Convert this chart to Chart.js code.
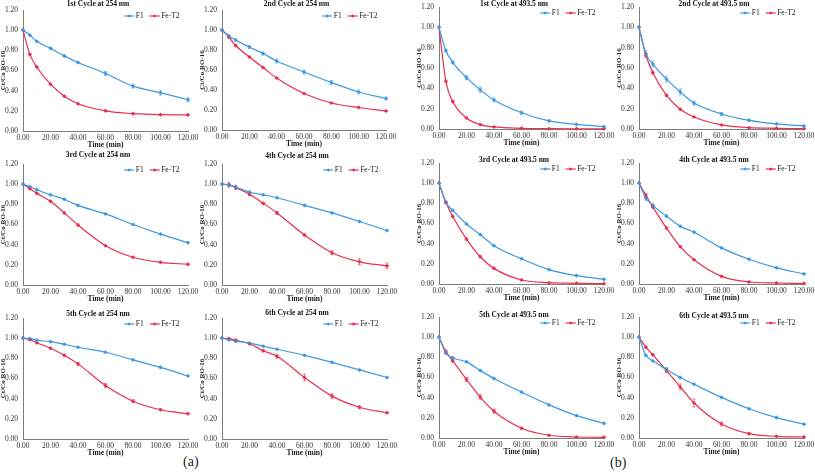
<!DOCTYPE html>
<html><head><meta charset="utf-8">
<script src="https://cdn.jsdelivr.net/npm/chart.js@4.4.1/dist/chart.umd.min.js"></script>
<style>
html,body{margin:0;padding:0;background:#fff;width:815px;height:475px;overflow:hidden;position:relative}
canvas{position:absolute}
.lab{position:absolute;font-family:'Liberation Serif','Times New Roman',serif;font-size:14px;color:#222;line-height:14px}
</style></head><body>
<div class="lab" style="left:183px;top:455px">(a)</div>
<div class="lab" style="left:610px;top:456px">(b)</div>
<script>
// ---------- DATA ----------
const times = [0, 5, 10, 20, 30, 40, 60, 80, 100, 120];
const seriesNames = ['F1', 'Fe-T2'];
const xTicks = [0, 20, 40, 60, 80, 100, 120];
const yTicks = [0, 0.2, 0.4, 0.6, 0.8, 1.0, 1.2];
const xTitle = 'Time (min)';
const yTitle = 'Ct/Co RO-16';
const panelTitles = [
  '1st Cycle at 254 nm', '2nd Cycle at 254 nm', '1st Cycle at 493.5 nm', '2nd Cycle at 493.5 nm',
  '3rd Cycle at 254 nm', '4th Cycle at 254 nm', '3rd Cycle at 493.5 nm', '4th Cycle at 493.5 nm',
  '5th Cycle at 254 nm', '6th Cycle at 254 nm', '5th Cycle at 493.5 nm', '6th Cycle at 493.5 nm'
];

// 254 nm
const f1_254_c1 = [1.00, 0.95, 0.89, 0.82, 0.745, 0.68, 0.57, 0.445, 0.38, 0.31];
const fe_254_c1 = [1.00, 0.76, 0.635, 0.465, 0.345, 0.27, 0.20, 0.172, 0.162, 0.16];
const f1_254_c2 = [1.00, 0.94, 0.90, 0.83, 0.765, 0.69, 0.58, 0.475, 0.38, 0.315];
const fe_254_c2 = [1.00, 0.93, 0.845, 0.73, 0.625, 0.52, 0.365, 0.27, 0.225, 0.19];
const f1_254_c3 = [1.00, 0.975, 0.945, 0.895, 0.85, 0.79, 0.705, 0.60, 0.505, 0.42];
const fe_254_c3 = [1.00, 0.955, 0.91, 0.83, 0.715, 0.595, 0.39, 0.275, 0.225, 0.205];
const f1_254_c4 = [1.00, 0.99, 0.97, 0.92, 0.895, 0.865, 0.79, 0.715, 0.63, 0.54];
const fe_254_c4 = [1.00, 0.995, 0.965, 0.90, 0.81, 0.715, 0.495, 0.32, 0.23, 0.19];
const f1_254_c5 = [1.00, 0.995, 0.98, 0.965, 0.94, 0.91, 0.86, 0.785, 0.71, 0.625];
const fe_254_c5 = [1.00, 0.985, 0.955, 0.90, 0.83, 0.745, 0.53, 0.375, 0.29, 0.25];
const f1_254_c6 = [1.00, 0.985, 0.97, 0.95, 0.92, 0.89, 0.83, 0.76, 0.685, 0.61];
const fe_254_c6 = [1.00, 0.995, 0.98, 0.945, 0.875, 0.82, 0.61, 0.425, 0.315, 0.26];
// 493.5 nm
const f1_493_c1 = [1.00, 0.77, 0.655, 0.505, 0.385, 0.285, 0.16, 0.08, 0.045, 0.023];
const fe_493_c1 = [1.00, 0.47, 0.27, 0.108, 0.043, 0.02, 0.007, 0.003, 0.002, 0.002];
const f1_493_c2 = [1.00, 0.74, 0.64, 0.49, 0.365, 0.255, 0.148, 0.085, 0.05, 0.03];
const fe_493_c2 = [1.00, 0.725, 0.555, 0.33, 0.195, 0.118, 0.04, 0.013, 0.007, 0.003];
const f1_493_c3 = [1.00, 0.81, 0.73, 0.595, 0.49, 0.38, 0.25, 0.143, 0.083, 0.046];
const fe_493_c3 = [1.00, 0.81, 0.67, 0.445, 0.27, 0.155, 0.04, 0.013, 0.007, 0.003];
const f1_493_c4 = [1.00, 0.85, 0.78, 0.673, 0.573, 0.514, 0.358, 0.245, 0.16, 0.10];
const fe_493_c4 = [1.00, 0.88, 0.765, 0.555, 0.37, 0.24, 0.076, 0.02, 0.01, 0.005];
const f1_493_c5 = [1.00, 0.845, 0.795, 0.755, 0.67, 0.59, 0.455, 0.328, 0.222, 0.145];
const fe_493_c5 = [1.00, 0.855, 0.765, 0.58, 0.405, 0.265, 0.097, 0.027, 0.01, 0.007];
const f1_493_c6 = [1.00, 0.82, 0.765, 0.68, 0.60, 0.533, 0.403, 0.29, 0.202, 0.136];
const fe_493_c6 = [1.00, 0.90, 0.826, 0.668, 0.506, 0.347, 0.139, 0.043, 0.017, 0.01];

// error bar half-lengths (estimated)
const ef1_254_c1 = [0, 0.005, 0.005, 0.01, 0.01, 0.01, 0.02, 0.02, 0.025, 0.02];
const efe_254_c1 = [0, 0.008, 0.005, 0.005, 0.005, 0.005, 0.005, 0.005, 0.005, 0.005];
const ef1_254_c2 = [0, 0.01, 0.01, 0.015, 0.015, 0.02, 0.02, 0.02, 0.02, 0.015];
const efe_254_c2 = [0, 0.01, 0.005, 0.005, 0.005, 0.005, 0.005, 0.005, 0.005, 0.005];
const ef1_254_c3 = [0, 0.008, 0.005, 0.005, 0.005, 0.005, 0.005, 0.005, 0.005, 0.005];
const efe_254_c3 = [0, 0.008, 0.008, 0.008, 0.008, 0.008, 0.005, 0.005, 0.005, 0.005];
const ef1_254_c4 = [0, 0.02, 0.02, 0.01, 0.005, 0.005, 0.005, 0.005, 0.005, 0.005];
const efe_254_c4 = [0, 0.02, 0.02, 0.015, 0.01, 0.015, 0.01, 0.02, 0.03, 0.03];
const ef1_254_c5 = [0, 0.005, 0.005, 0.005, 0.005, 0.005, 0.005, 0.005, 0.005, 0.005];
const efe_254_c5 = [0, 0.005, 0.005, 0.005, 0.01, 0.015, 0.02, 0.015, 0.01, 0.005];
const ef1_254_c6 = [0, 0.01, 0.01, 0.005, 0.005, 0.005, 0.005, 0.005, 0.005, 0.005];
const efe_254_c6 = [0, 0.01, 0.01, 0.01, 0.01, 0.02, 0.035, 0.025, 0.015, 0.005];
const ef1_493_c1 = [0, 0.015, 0.015, 0.02, 0.025, 0.02, 0.015, 0.01, 0.005, 0.005];
const efe_493_c1 = [0, 0.01, 0.01, 0.005, 0.005, 0.005, 0.005, 0.005, 0.005, 0.005];
const ef1_493_c2 = [0, 0.03, 0.03, 0.03, 0.03, 0.02, 0.015, 0.01, 0.005, 0.005];
const efe_493_c2 = [0, 0.02, 0.015, 0.01, 0.005, 0.005, 0.005, 0.005, 0.005, 0.005];
const ef1_493_c3 = [0, 0.01, 0.005, 0.005, 0.005, 0.005, 0.005, 0.005, 0.005, 0.005];
const efe_493_c3 = [0, 0.01, 0.01, 0.01, 0.01, 0.005, 0.005, 0.005, 0.005, 0.005];
const ef1_493_c4 = [0, 0.02, 0.015, 0.01, 0.005, 0.005, 0.005, 0.005, 0.005, 0.005];
const efe_493_c4 = [0, 0.02, 0.01, 0.01, 0.005, 0.005, 0.005, 0.005, 0.005, 0.005];
const ef1_493_c5 = [0, 0.015, 0.01, 0.005, 0.005, 0.005, 0.005, 0.005, 0.005, 0.005];
const efe_493_c5 = [0, 0.02, 0.01, 0.02, 0.025, 0.02, 0.01, 0.005, 0.005, 0.005];
const ef1_493_c6 = [0, 0.01, 0.005, 0.02, 0.005, 0.005, 0.005, 0.005, 0.005, 0.005];
const efe_493_c6 = [0, 0.01, 0.01, 0.02, 0.03, 0.04, 0.02, 0.01, 0.005, 0.005];

// panel order (row-major on the page)
const panelF1 = [f1_254_c1, f1_254_c2, f1_493_c1, f1_493_c2, f1_254_c3, f1_254_c4, f1_493_c3, f1_493_c4, f1_254_c5, f1_254_c6, f1_493_c5, f1_493_c6];
const panelFe = [fe_254_c1, fe_254_c2, fe_493_c1, fe_493_c2, fe_254_c3, fe_254_c4, fe_493_c3, fe_493_c4, fe_254_c5, fe_254_c6, fe_493_c5, fe_493_c6];
const panelEF1 = [ef1_254_c1, ef1_254_c2, ef1_493_c1, ef1_493_c2, ef1_254_c3, ef1_254_c4, ef1_493_c3, ef1_493_c4, ef1_254_c5, ef1_254_c6, ef1_493_c5, ef1_493_c6];
const panelEFe = [efe_254_c1, efe_254_c2, efe_493_c1, efe_493_c2, efe_254_c3, efe_254_c4, efe_493_c3, efe_493_c4, efe_254_c5, efe_254_c6, efe_493_c5, efe_493_c6];

// ---------- LAYOUT (plot-area boxes in page pixels) ----------
const geom = [
  {L:23, R:188, T:10, B:131, gap:6}, {L:222, R:386, T:10, B:130, gap:6}, {L:439, R:604, T:7, B:129, gap:3}, {L:639, R:804, T:7, B:129, gap:3},
  {L:23, R:188, T:164, B:285, gap:9}, {L:222, R:387, T:164, B:285, gap:8}, {L:439, R:604, T:163, B:284, gap:3}, {L:639, R:804, T:163, B:284, gap:3},
  {L:23, R:188, T:318, B:439, gap:4}, {L:222, R:387, T:318, B:439, gap:5}, {L:439, R:604, T:317, B:438, gap:2}, {L:639, R:804, T:317, B:438, gap:1}
];
const YW = 24, XH = 20, PT = 14, PR = 18;
const FONT = "'Liberation Serif','Times New Roman',serif";
const COLORS = ['#3d98e4', '#e6304f'];
const AXIS = '#7d7d7d';

function drawSymbol(ctx, x0, x1, y, color) {
  ctx.strokeStyle = color; ctx.lineWidth = 1.2;
  ctx.beginPath(); ctx.moveTo(x0, y); ctx.lineTo(x1, y); ctx.stroke();
  const cx = (x0 + x1) / 2, r = 1.8;
  ctx.fillStyle = color;
  ctx.beginPath(); ctx.moveTo(cx, y - r); ctx.lineTo(cx + r, y); ctx.lineTo(cx, y + r); ctx.lineTo(cx - r, y); ctx.closePath(); ctx.fill();
}

function makeChart(i) {
  const g = geom[i];
  const W = (g.R - g.L) + YW + PR, H = PT + (g.B - g.T) + XH;
  const cv = document.createElement('canvas');
  cv.width = W; cv.height = H;
  cv.style.left = (g.L - YW) + 'px'; cv.style.top = (g.T - PT) + 'px';
  cv.style.width = W + 'px'; cv.style.height = H + 'px';
  document.body.appendChild(cv);

  const series = [panelF1[i], panelFe[i]];
  const errs = [panelEF1[i], panelEFe[i]];

  const decor = {
    id: 'decor' + i,
    afterDatasetsDraw(chart) {
      const ctx = chart.ctx, xs = chart.scales.x, ys = chart.scales.y;
      ctx.save();
      chart.data.datasets.forEach((ds, di) => {
        ctx.strokeStyle = ds.borderColor; ctx.globalAlpha = 0.75; ctx.lineWidth = 0.8;
        ds.data.forEach((p, k) => {
          const e = ds.errors[k];
          if (!e) return;
          const x = xs.getPixelForValue(p.x);
          const y1 = ys.getPixelForValue(p.y + e), y2 = ys.getPixelForValue(Math.max(0, p.y - e));
          ctx.beginPath();
          ctx.moveTo(x, y1); ctx.lineTo(x, y2);
          ctx.moveTo(x - 1.5, y1); ctx.lineTo(x + 1.5, y1);
          ctx.moveTo(x - 1.5, y2); ctx.lineTo(x + 1.5, y2);
          ctx.stroke();
        });
      });
      ctx.restore();
    },
    afterDraw(chart) {
      const ctx = chart.ctx, ca = chart.chartArea;
      ctx.save();
      // panel title
      ctx.fillStyle = '#111';
      ctx.font = 'bold 7.5px ' + FONT;
      ctx.textAlign = 'center'; ctx.textBaseline = 'middle';
      ctx.fillText(panelTitles[i], (ca.left + ca.right) / 2 - 7.5, ca.top - g.gap);
      // legend
      ctx.font = '7.5px ' + FONT;
      ctx.textAlign = 'left';
      const y = ca.top + 6;
      const w2 = ctx.measureText(seriesNames[1]).width, w1 = ctx.measureText(seriesNames[0]).width;
      const t2 = ca.right - 8.5 - w2;
      const s2 = t2 - 1.5;
      const t1 = s2 - 10 - 6 - w1;
      const s1 = t1 - 1.5;
      drawSymbol(ctx, s1 - 10, s1, y, COLORS[0]);
      drawSymbol(ctx, s2 - 10, s2, y, COLORS[1]);
      ctx.fillStyle = '#222';
      ctx.fillText(seriesNames[0], t1, y + 0.5);
      ctx.fillText(seriesNames[1], t2, y + 0.5);
      ctx.restore();
    }
  };

  new Chart(cv, {
    type: 'line',
    data: {
      datasets: series.map((vals, si) => ({
        label: seriesNames[si],
        data: times.map((t, k) => ({x: t, y: vals[k]})),
        errors: errs[si],
        borderColor: COLORS[si],
        backgroundColor: COLORS[si],
        pointBackgroundColor: COLORS[si],
        pointBorderColor: COLORS[si],
        pointStyle: 'rectRot',
        pointRadius: 1.8,
        pointBorderWidth: 0.5,
        borderWidth: 1.2,
        cubicInterpolationMode: 'monotone',
        fill: false,
        clip: false
      }))
    },
    options: {
      responsive: false,
      animation: false,
      devicePixelRatio: 1,
      layout: {padding: {top: PT, right: PR, left: 0, bottom: 0}},
      plugins: {legend: {display: false}, title: {display: false}, tooltip: {enabled: false}},
      scales: {
        x: {
          type: 'linear', min: 0, max: 120,
          afterBuildTicks: s => { s.ticks = xTicks.map(v => ({value: v})); },
          afterFit: s => { s.height = XH; },
          grid: {display: false, drawTicks: false},
          border: {display: true, color: AXIS, width: 1},
          ticks: {padding: 3, maxRotation: 0, autoSkip: false, color: '#333', font: {family: FONT, size: 7.5},
                  callback: v => Number(v).toFixed(2)},
          title: {display: true, text: xTitle, color: '#222', font: {family: FONT, size: 7.5, weight: 'bold', lineHeight: 1.2}, padding: {top: 0, bottom: 1}}
        },
        y: {
          type: 'linear', min: 0, max: 1.2,
          afterBuildTicks: s => { s.ticks = yTicks.map(v => ({value: v})); },
          afterFit: s => { s.width = YW; },
          grid: {display: false, drawTicks: false},
          border: {display: true, color: AXIS, width: 1},
          ticks: {padding: 5, color: '#333', font: {family: FONT, size: 7.5},
                  callback: v => Number(v).toFixed(2)},
          title: {display: true, text: yTitle, color: '#222', font: {family: FONT, size: 7, weight: 'bold', lineHeight: 1.2}, padding: {top: 0, bottom: 0}}
        }
      }
    },
    plugins: [decor]
  });
}
for (let i = 0; i < geom.length; i++) makeChart(i);
</script>
</body></html>
